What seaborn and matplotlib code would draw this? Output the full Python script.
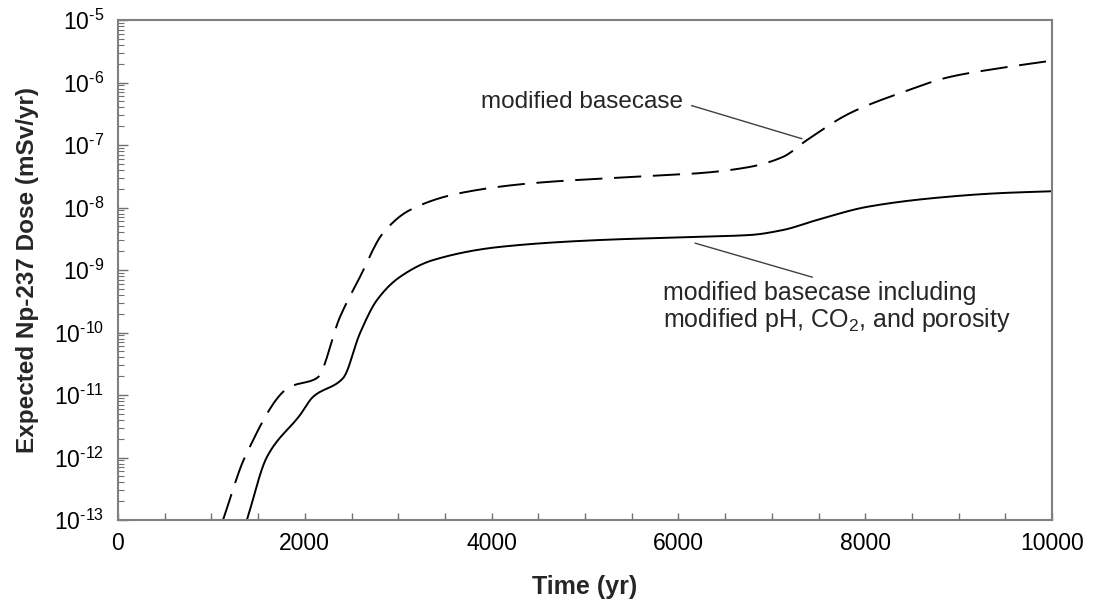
import numpy as np
import pandas as pd
import matplotlib
matplotlib.use("Agg")
import matplotlib.pyplot as plt
import matplotlib.ticker as mticker
import seaborn as sns

# Data (time in years, dose in mSv/yr)
base_time = [1124, 1360, 1840, 2130, 2377, 2591, 2837, 3126, 3662, 4443, 5514, 6231,
             6767, 7120, 7377, 7837, 8373, 8908, 9443, 10000]
base_dose = [1e-13, 10**-11.99, 10**-10.87, 10**-10.73, 10**-9.75, 10**-9.11, 10**-8.41,
             10**-8.04, 10**-7.77, 10**-7.61, 10**-7.51, 10**-7.45, 10**-7.35, 10**-7.19,
             10**-6.92, 10**-6.49, 10**-6.17, 10**-5.91, 10**-5.77, 10**-5.65]

mod_time = [1380, 1595, 1949, 2088, 2410, 2591, 2773, 3019, 3376, 4090, 5161, 6199,
            6767, 7120, 7484, 8019, 8726, 9443, 10000]
mod_dose = [1e-13, 10**-11.99, 10**-11.32, 10**-11.03, 10**-10.73, 10**-10.01, 10**-9.48,
            10**-9.11, 10**-8.84, 10**-8.63, 10**-8.52, 10**-8.47, 10**-8.44, 10**-8.36,
            10**-8.2, 10**-7.99, 10**-7.85, 10**-7.77, 10**-7.74]

label_base = "modified basecase"
label_mod = "modified basecase including\nmodified pH, CO$_2$, and porosity"

sns.set_style("ticks")
plt.rcParams['font.family'] = ['Liberation Sans', 'DejaVu Sans']
plt.rcParams['mathtext.fontset'] = 'custom'
plt.rcParams['mathtext.rm'] = 'Liberation Sans'
plt.rcParams['mathtext.it'] = 'Liberation Sans:italic'
plt.rcParams['mathtext.bf'] = 'Liberation Sans:bold'
plt.rcParams['axes.unicode_minus'] = False

def smooth(t, d, n=400):
    t = np.asarray(t, float)
    ld = np.log10(np.asarray(d, float))
    # monotone cubic (PCHIP-like) through read points for a smooth line
    h = np.diff(t)
    delta = np.diff(ld) / h
    m = np.zeros_like(ld)
    m[0], m[-1] = delta[0], delta[-1]
    for k in range(1, len(ld) - 1):
        if delta[k - 1] * delta[k] > 0:
            w1 = 2 * h[k] + h[k - 1]
            w2 = h[k] + 2 * h[k - 1]
            m[k] = (w1 + w2) / (w1 / delta[k - 1] + w2 / delta[k])
    tt = np.linspace(t[0], t[-1], n)
    idx = np.clip(np.searchsorted(t, tt) - 1, 0, len(t) - 2)
    s = (tt - t[idx]) / h[idx]
    h00 = 2 * s**3 - 3 * s**2 + 1
    h10 = s**3 - 2 * s**2 + s
    h01 = -2 * s**3 + 3 * s**2
    h11 = s**3 - s**2
    y = h00 * ld[idx] + h10 * h[idx] * m[idx] + h01 * ld[idx + 1] + h11 * h[idx] * m[idx + 1]
    return tt, 10**y

tb, db = smooth(base_time, base_dose)
tm, dm = smooth(mod_time, mod_dose)
df_b = pd.DataFrame({"time": tb, "dose": db})
df_m = pd.DataFrame({"time": tm, "dose": dm})

fig = plt.figure(figsize=(10.93, 6.01), dpi=100)
ax = fig.add_axes([118/1093, 1 - 520/601, (1052-118)/1093, (520-20)/601])

sns.lineplot(data=df_b, x="time", y="dose", ax=ax, color="black", lw=1.4,
             linestyle=(0, (14, 6)), sort=False)
sns.lineplot(data=df_m, x="time", y="dose", ax=ax, color="black", lw=1.4, sort=False)

ax.set_yscale("log")
ax.set_xlim(0, 10000)
ax.set_ylim(1e-13, 1e-5)
ax.xaxis.set_major_locator(mticker.MultipleLocator(2000))
ax.xaxis.set_minor_locator(mticker.MultipleLocator(500))
ax.yaxis.set_major_locator(mticker.LogLocator(base=10, numticks=20))
ax.yaxis.set_minor_locator(mticker.LogLocator(base=10, subs=np.arange(2, 10), numticks=20))

def log_fmt(v, pos):
    e = int(round(np.log10(v)))
    sign = "-" if e < 0 else ""
    return r"$\mathdefault{10^{\text{%s%d}}}$" % (sign, abs(e))

ax.yaxis.set_major_formatter(mticker.FuncFormatter(log_fmt))
ax.tick_params(axis="both", which="both", direction="in", colors="#707070",
               labelcolor="black", labelsize=16.5)
ax.tick_params(axis="y", which="major", length=7, width=1, pad=10)
ax.tick_params(axis="y", which="minor", length=4, width=0.8)
ax.tick_params(axis="x", which="both", length=5, width=1, pad=9)
for sp in ax.spines.values():
    sp.set_color("#808080")
    sp.set_linewidth(1.5)

ax.set_xlabel("Time (yr)", fontsize=18, fontweight="bold", labelpad=14)
ax.set_ylabel("Expected Np-237 Dose (mSv/yr)", fontsize=17.5, fontweight="bold", labelpad=11)

ax.annotate(label_base, xy=(7323, 10**-6.90), xytext=(6049, 10**-6.31),
            fontsize=17.5, ha="right", va="center",
            arrowprops=dict(arrowstyle="-", color="#404040", lw=1,
                            relpos=(1.0, 0.45), shrinkA=4, shrinkB=0))
ax.annotate(label_mod, xy=(6178, 10**-8.57), xytext=(5835, 10**-9.18),
            fontsize=18, ha="left", va="top", linespacing=1.05,
            arrowprops=dict(arrowstyle="-", color="#404040", lw=1,
                            relpos=(0.47, 1.0), shrinkA=2, shrinkB=0))

fig.savefig("out.png", dpi=100)
